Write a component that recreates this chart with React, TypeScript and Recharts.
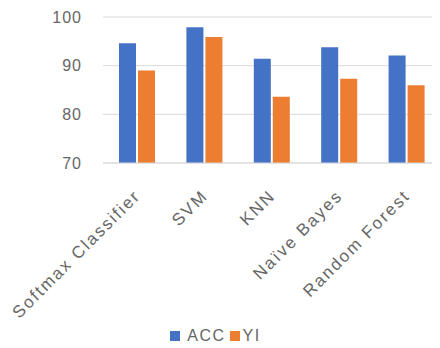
import React from "react";
import { BarChart, Bar, XAxis, YAxis, CartesianGrid, Legend } from "recharts";

const categories = ["Softmax Classifier", "SVM", "KNN", "Naïve Bayes", "Random Forest"];
const accValues = [94.6, 97.9, 91.4, 93.8, 92.1];
const yiValues = [89.0, 95.9, 83.6, 87.3, 86.0];
const yTicks = [70, 80, 90, 100];

const data = categories.map((name, i) => ({ name, ACC: accValues[i], YI: yiValues[i] }));

const FONT = "'Liberation Sans', 'DejaVu Sans', sans-serif";
const TEXT = "#666666";

const XTick = (props: any) => {
  const { x, y, payload } = props;
  return (
    <g transform={`translate(${x + 2},${y + 23})`}>
      <text
        transform="rotate(-45)"
        textAnchor="end"
        fontSize={17}
        letterSpacing={2}
        fontFamily={FONT}
        fill={TEXT}
        dy={4}
      >
        {payload.value}
      </text>
    </g>
  );
};

const LegendContent = () => (
  <div
    style={{
      display: "flex",
      justifyContent: "center",
      alignItems: "center",
      height: 25,
      fontFamily: FONT,
      fontSize: 16,
      letterSpacing: 1.5,
      color: TEXT,
      paddingRight: 9,
      boxSizing: "border-box",
    }}
  >
    <span style={{ width: 10, height: 10, background: "#4472C4", display: "inline-block", marginRight: 7 }} />
    <span style={{ marginRight: 4 }}>ACC</span>
    <span style={{ width: 10, height: 10, background: "#ED7D31", display: "inline-block", marginRight: 3 }} />
    <span>YI</span>
  </div>
);

export default function App() {
  return (
    <div style={{ marginLeft: -8, marginTop: -8, width: 440, height: 348, background: "#fff" }}>
      <BarChart
        width={440}
        height={348}
        data={data}
        margin={{ top: 17, right: 0, left: 0, bottom: 0 }}
        barSize={17}
        barGap={2}
      >
        <CartesianGrid vertical={false} stroke="#d9d9d9" strokeWidth={1} />
        <XAxis
          dataKey="name"
          interval={0}
          tick={<XTick />}
          tickLine={false}
          axisLine={{ stroke: "#d9d9d9" }}
          height={160}
        />
        <YAxis
          domain={[70, 100]}
          ticks={yTicks}
          width={103}
          tickLine={false}
          axisLine={false}
          tickSize={0}
          tickMargin={21}
          tick={{ fontSize: 16, fontFamily: FONT, fill: TEXT, letterSpacing: 1 }}
        />
        <Legend verticalAlign="bottom" content={<LegendContent />} wrapperStyle={{ height: 25, bottom: 0 }} />
        <Bar dataKey="ACC" fill="#4472C4" isAnimationActive={false} />
        <Bar dataKey="YI" fill="#ED7D31" isAnimationActive={false} />
      </BarChart>
    </div>
  );
}
